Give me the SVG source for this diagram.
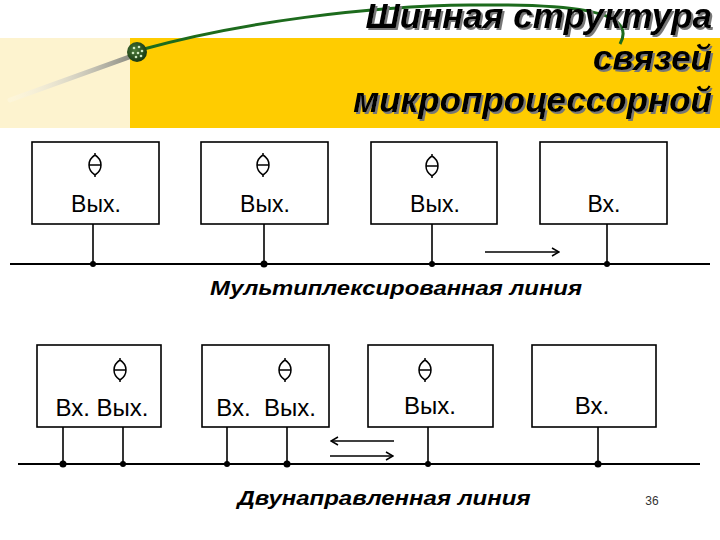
<svg xmlns="http://www.w3.org/2000/svg" width="720" height="540" viewBox="0 0 720 540">
<defs>
<linearGradient id="tail" x1="0" y1="0" x2="1" y2="0">
<stop offset="0" stop-color="#ffffff" stop-opacity="0.2"/>
<stop offset="1" stop-color="#8a8a80"/>
</linearGradient>
<radialGradient id="ball" cx="0.4" cy="0.4" r="0.6">
<stop offset="0" stop-color="#4a7a3a"/>
<stop offset="1" stop-color="#1a3a12"/>
</radialGradient>
<filter id="shadow" x="-5%" y="-20%" width="110%" height="140%">
<feOffset in="SourceAlpha" dx="2" dy="2" result="o"/>
<feFlood flood-color="#777"/>
<feComposite in2="o" operator="in" result="sh"/>
<feMerge><feMergeNode in="sh"/><feMergeNode in="SourceGraphic"/></feMerge>
</filter>
<marker id="ah" viewBox="0 0 10 10" refX="9" refY="5" markerWidth="10" markerHeight="10" markerUnits="userSpaceOnUse" orient="auto">
<path d="M2,1 L9,5 L2,9" fill="none" stroke="#000" stroke-width="1.5"/>
</marker>
<path id="s" d="M0,-12 L0,-10 C-8,-5 -8,5 0,10 L0,12 M0,-10 C8,-5 8,5 0,10 M-6,0 L6,0"/>
</defs>
<style>
.box{fill:#fff;stroke:#000;stroke-width:1.6}
.wire{stroke:#000;stroke-width:1.6;fill:none}
.bus{stroke:#000;stroke-width:2;fill:none}
.dot{fill:#000}
.lbl{font-family:"Liberation Sans",Arial,sans-serif;font-size:23px;fill:#000;text-anchor:middle}
.lb2{font-family:"Liberation Sans",Arial,sans-serif;font-size:24px;fill:#000;text-anchor:middle}
.cap{font-family:"Liberation Sans",Arial,sans-serif;font-size:20px;font-weight:bold;font-style:italic;fill:#000;text-anchor:middle}
.ttl{font-family:"Liberation Sans",Arial,sans-serif;font-size:35px;font-weight:bold;font-style:italic;text-anchor:end;fill:#000}
.sym{fill:none;stroke:#000;stroke-width:1.5}
</style>
<rect width="720" height="540" fill="#fff"/>
<g id="banner">
<rect x="0" y="38" width="130" height="90" fill="#fdf3cf"/>
<rect x="130" y="38" width="590" height="90" fill="#ffcc00"/>
<path d="M10,100 L132,56" stroke="url(#tail)" stroke-width="5" stroke-linecap="round"/>
<path d="M140,50 C240,22 370,6 470,5 C560,4 640,8 620,44" fill="none" stroke="#1d6b1d" stroke-width="3"/>
<circle cx="137" cy="52" r="10" fill="url(#ball)"/>
<g fill="#cfe8c0">
<circle cx="134" cy="48" r="1.3"/><circle cx="139" cy="47" r="1.3"/><circle cx="133" cy="53" r="1.3"/><circle cx="138" cy="53" r="1.3"/><circle cx="142" cy="51" r="1.3"/><circle cx="136" cy="57" r="1.3"/><circle cx="141" cy="56" r="1.3"/>
</g>
<g filter="url(#shadow)">
<text class="ttl" x="712" y="28">Шинная структура</text>
<text class="ttl" x="712" y="70">связей</text>
<text class="ttl" x="712" y="112">микропроцессорной</text>
</g>
</g>
<g id="t1">
<rect class="box" x="32" y="142" width="127" height="82"/>
<use href="#s" class="sym" x="95" y="165"/>
<text class="lbl" x="96" y="212">Вых.</text>
</g>
<g id="t2">
<rect class="box" x="201" y="142" width="127" height="82"/>
<use href="#s" class="sym" x="263" y="165"/>
<text class="lbl" x="265" y="212">Вых.</text>
</g>
<g id="t3">
<rect class="box" x="371" y="142" width="126" height="82"/>
<use href="#s" class="sym" x="432" y="166"/>
<text class="lbl" x="435" y="212">Вых.</text>
</g>
<g id="t4">
<rect class="box" x="540" y="142" width="127" height="82"/>
<text class="lbl" x="604" y="212">Вх.</text>
</g>
<g id="b1">
<rect class="box" x="37" y="345" width="124" height="82"/>
<use href="#s" class="sym" x="120" y="370"/>
<text class="lb2" x="102" y="416">Вх. Вых.</text>
</g>
<g id="b2">
<rect class="box" x="202" y="345" width="127" height="82"/>
<use href="#s" class="sym" x="285" y="370"/>
<text class="lb2" x="266" y="416" xml:space="preserve">Вх.  Вых.</text>
</g>
<g id="b3">
<rect class="box" x="368" y="345" width="125" height="82"/>
<use href="#s" class="sym" x="425" y="370"/>
<text class="lb2" x="430" y="414">Вых.</text>
</g>
<g id="b4">
<rect class="box" x="532" y="345" width="124" height="82"/>
<text class="lb2" x="592" y="414">Вх.</text>
</g>
<g id="connectors">
<line class="bus" x1="10" y1="264" x2="710" y2="264"/>
<line class="wire" x1="93" y1="224" x2="93" y2="264"/>
<line class="wire" x1="264" y1="224" x2="264" y2="264"/>
<line class="wire" x1="432" y1="224" x2="432" y2="264"/>
<line class="wire" x1="607" y1="224" x2="607" y2="264"/>
<circle class="dot" cx="93" cy="264" r="3"/>
<circle class="dot" cx="264" cy="264" r="3.5"/>
<circle class="dot" cx="432" cy="264" r="3"/>
<circle class="dot" cx="607" cy="264" r="3"/>
<line class="wire" x1="485" y1="252" x2="559" y2="252" marker-end="url(#ah)"/>
<line class="bus" x1="18" y1="464" x2="700" y2="464"/>
<line class="wire" x1="63" y1="427" x2="63" y2="464"/>
<line class="wire" x1="123" y1="427" x2="123" y2="464"/>
<line class="wire" x1="227" y1="427" x2="227" y2="464"/>
<line class="wire" x1="287" y1="427" x2="287" y2="464"/>
<line class="wire" x1="428" y1="427" x2="428" y2="464"/>
<line class="wire" x1="598" y1="427" x2="598" y2="464"/>
<circle class="dot" cx="63" cy="464" r="3.5"/>
<circle class="dot" cx="123" cy="464" r="3"/>
<circle class="dot" cx="227" cy="464" r="3"/>
<circle class="dot" cx="287" cy="464" r="3.5"/>
<circle class="dot" cx="428" cy="464" r="3"/>
<circle class="dot" cx="598" cy="464" r="3.5"/>
<line class="wire" x1="394" y1="441" x2="331" y2="441" marker-end="url(#ah)"/>
<line class="wire" x1="330" y1="456" x2="393" y2="456" marker-end="url(#ah)"/>
</g>
<text class="cap" x="396" y="295" textLength="372" lengthAdjust="spacingAndGlyphs">Мультиплексированная линия</text>
<text class="cap" x="384" y="505" textLength="293" lengthAdjust="spacingAndGlyphs">Двунаправленная линия</text>
<text x="652" y="505" font-family="'Liberation Sans',Arial,sans-serif" font-size="12" fill="#333" text-anchor="middle">36</text>
</svg>
